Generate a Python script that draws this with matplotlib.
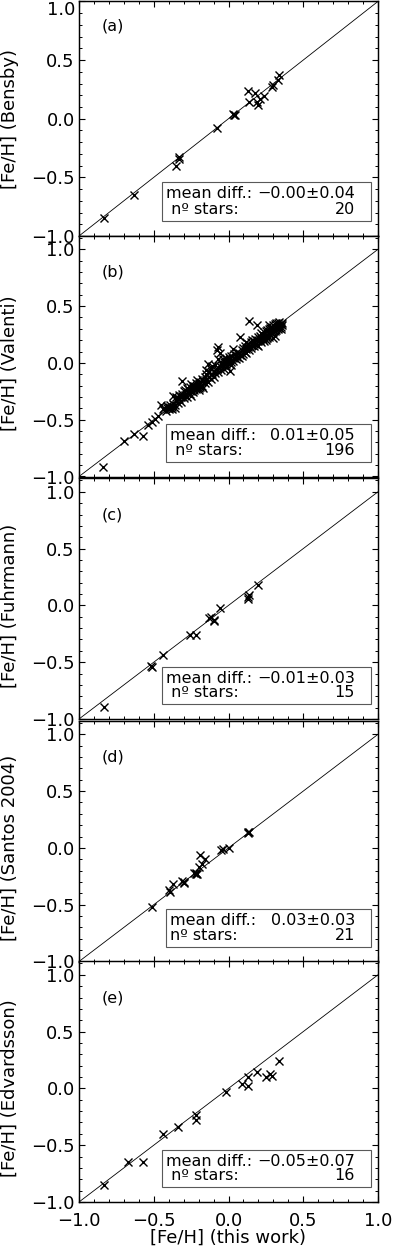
import matplotlib
matplotlib.use("Agg")
import matplotlib.pyplot as plt
from matplotlib.ticker import MultipleLocator, FuncFormatter

plt.rcParams['font.family'] = ['DejaVu Sans']

# ---------------- data ----------------
ylabels = ["[Fe/H] (Bensby)", "[Fe/H] (Valenti)", "[Fe/H] (Fuhrmann)",
           "[Fe/H] (Santos 2004)", "[Fe/H] (Edvardsson)"]
panel_tags = ["(a)", "(b)", "(c)", "(d)", "(e)"]
mean_diff = ["\u22120.00\u00b10.04", "0.01\u00b10.05", "\u22120.01\u00b10.03",
             "0.03\u00b10.03", "\u22120.05\u00b10.07"]
n_stars = [20, 196, 15, 21, 16]

xa = [-0.83, -0.63, -0.35, -0.33, -0.33, -0.08, 0.03, 0.035, 0.045, 0.13,
      0.14, 0.18, 0.19, 0.20, 0.21, 0.24, 0.29, 0.30, 0.33, 0.34]
ya = [-0.85, -0.65, -0.40, -0.33, -0.34, -0.08, 0.04, 0.035, 0.03, 0.24,
      0.14, 0.22, 0.14, 0.12, 0.17, 0.19, 0.27, 0.29, 0.33, 0.37]

xb = [-0.84, -0.70, -0.63, -0.57, -0.54, -0.51, -0.49, -0.47,
      -0.45, -0.44, -0.43, -0.42, -0.41, -0.41, -0.40, -0.40, -0.39, -0.39, -0.38, -0.37, -0.37, -0.36, -0.35,
      -0.35, -0.34, -0.34, -0.33, -0.33, -0.32, -0.32, -0.31, -0.31, -0.30, -0.30, -0.29, -0.29, -0.28, -0.28,
      -0.27, -0.27, -0.26, -0.26, -0.25, -0.25, -0.25,
      -0.24, -0.24, -0.23, -0.23, -0.22, -0.22, -0.21, -0.21, -0.20, -0.20, -0.19, -0.19, -0.18, -0.18,
      -0.17, -0.17, -0.16, -0.16, -0.15, -0.15, -0.15, -0.14, -0.14, -0.13,
      -0.13, -0.12, -0.12, -0.11, -0.11, -0.10, -0.10, -0.09, -0.09, -0.08, -0.08, -0.07, -0.07, -0.07,
      -0.06, -0.06, -0.05, -0.05, -0.04, -0.04, -0.03, -0.03, -0.02, -0.02,
      -0.01, -0.01, 0.00, 0.00, 0.01, 0.01, 0.02, 0.02, 0.03, 0.03, 0.04, 0.04, 0.05, 0.05, 0.06, 0.06,
      0.07, 0.07, 0.08, 0.08, 0.09, 0.09,
      0.10, 0.10, 0.11, 0.11, 0.12, 0.12, 0.13, 0.13, 0.14, 0.14, 0.14, 0.15, 0.15, 0.16, 0.16, 0.17,
      0.17, 0.18, 0.18, 0.19, 0.19, 0.19, 0.20, 0.20, 0.20, 0.21,
      0.21, 0.22, 0.22, 0.23, 0.23, 0.24, 0.24, 0.25, 0.25, 0.25, 0.26, 0.26, 0.26, 0.27, 0.27, 0.27,
      0.28, 0.28, 0.28, 0.29, 0.29, 0.29, 0.30, 0.30, 0.30, 0.30, 0.31, 0.31, 0.31, 0.32, 0.32, 0.32,
      0.33, 0.33, 0.33, 0.34, 0.34, 0.34, 0.35, 0.35, 0.35, 0.36, 0.36, 0.31, 0.27,
      -0.38, -0.36, -0.24, -0.20, -0.12, 0.02, 0.12, 0.22, 0.24, -0.31]
yb = [-0.92, -0.69, -0.63, -0.64, -0.55, -0.52, -0.49, -0.47,
      -0.37, -0.41, -0.40, -0.42, -0.40, -0.38, -0.41, -0.39, -0.40, -0.37, -0.39, -0.36, -0.29, -0.37, -0.33,
      -0.30, -0.35, -0.31, -0.32, -0.28, -0.34, -0.30, -0.16, -0.27, -0.31, -0.25, -0.28, -0.24, -0.30, -0.22,
      -0.26, -0.23, -0.27, -0.21, -0.25, -0.19, -0.29,
      -0.22, -0.26, -0.20, -0.24, -0.18, -0.23, -0.21, -0.15, -0.19, -0.24, -0.17, -0.21, -0.14, -0.20,
      -0.16, -0.22, -0.12, -0.18, -0.15, -0.10, -0.06, -0.17, -0.01, -0.12,
      -0.08, -0.14, -0.05, -0.10, -0.03, -0.12, -0.07, -0.02, -0.09, 0.11, -0.05, 0.14, -0.08, 0.03,
      -0.03, 0.09, -0.06, 0.00, -0.02, 0.03, -0.05, 0.01, -0.01, 0.04,
      -0.04, 0.02, 0.00, 0.05, -0.07, 0.03, 0.01, 0.06, 0.12, 0.02, 0.04, 0.08, 0.03, 0.07, 0.05, 0.10,
      0.04, 0.09, 0.23, 0.07, 0.11, 0.06,
      0.08, 0.13, 0.10, 0.15, 0.09, 0.12, 0.14, 0.17, 0.11, 0.37, 0.15, 0.18, 0.13, 0.16, 0.20, 0.15,
      0.19, 0.17, 0.21, 0.33, 0.16, 0.20, 0.19, 0.23, 0.15, 0.20,
      0.24, 0.18, 0.22, 0.25, 0.21, 0.23, 0.27, 0.20, 0.24, 0.28, 0.25, 0.22, 0.29, 0.26, 0.30, 0.23,
      0.27, 0.31, 0.25, 0.28, 0.32, 0.26, 0.29, 0.33, 0.22, 0.27, 0.30, 0.34, 0.28, 0.31, 0.35, 0.29,
      0.32, 0.30, 0.35, 0.33, 0.31, 0.36, 0.34, 0.32, 0.30, 0.33, 0.35, 0.24, 0.33,
      -0.41, -0.40, -0.20, -0.22, -0.10, -0.02, 0.18, 0.26, 0.19, -0.29]

xc = [-0.83, -0.52, -0.51, -0.44, -0.26, -0.22, -0.13, -0.12, -0.10, -0.10,
      -0.06, 0.13, 0.13, 0.14, 0.20]
yc = [-0.89, -0.53, -0.54, -0.44, -0.26, -0.26, -0.11, -0.10, -0.13, -0.14,
      -0.02, 0.06, 0.07, 0.09, 0.18]

xd = [-0.51, -0.40, -0.39, -0.37, -0.31, -0.30, -0.30, -0.23, -0.22, -0.22, -0.21,
      -0.20, -0.19, -0.18, -0.16, -0.05, -0.04, 0.00, 0.13, 0.13, 0.14]
yd = [-0.52, -0.37, -0.39, -0.32, -0.29, -0.31, -0.30, -0.22, -0.23, -0.22, -0.23,
      -0.17, -0.06, -0.14, -0.10, -0.02, -0.01, 0.00, 0.14, 0.13, 0.14]

xe = [-0.83, -0.67, -0.57, -0.44, -0.34, -0.22, -0.22, -0.02, 0.09, 0.13,
      0.13, 0.19, 0.25, 0.28, 0.29, 0.34]
ye = [-0.85, -0.65, -0.65, -0.40, -0.34, -0.23, -0.28, -0.03, 0.04, 0.10,
      0.02, 0.14, 0.10, 0.13, 0.11, 0.24]

xs = [xa, xb, xc, xd, xe]
ys = [ya, yb, yc, yd, ye]

# ---------------- layout ----------------
W, H = 393, 1257
fig = plt.figure(figsize=(W / 100, H / 100), dpi=100)

left_px, right_px = 79, 378
# (bottom pixel from top, pixel per data unit, y max)
geom = [(236, 117.3, 1.0), (476.5, 113.6, 1.12), (719, 113.6, 1.12),
        (961.5, 113.6, 1.12), (1202, 113.6, 1.12)]
YMIN = -1.0
box_left = [-0.445, -0.418, -0.445, -0.418, -0.445]
star_lbl = [" n\u00ba stars:", " n\u00ba stars:", " n\u00ba stars:", "n\u00ba stars:", " n\u00ba stars:"]


def make_fmt(skip_top):
    def fmt(v, pos):
        if skip_top and abs(v - 1.0) < 1e-9:
            return ""
        s = "%.1f" % v
        if s == "-0.0":
            s = "0.0"
        return s.replace("-", "\u2212")
    return fmt


TICK_FS = 13
TXT_FS = 11.5

for i in range(5):
    bot, ppu, ymax = geom[i]
    hpx = (ymax - YMIN) * ppu
    ax = fig.add_axes([left_px / W, (H - bot) / H, (right_px - left_px) / W, hpx / H])
    ax.set_xlim(-1.0, 1.0)
    ax.set_ylim(YMIN, ymax)
    ax.plot([-1.0, 1.0], [-1.0, 1.0], color="black", lw=0.6)
    ax.plot(xs[i], ys[i], linestyle="none", marker="x", ms=5.3, mew=1.0, color="black")

    ax.xaxis.set_major_locator(MultipleLocator(0.5))
    ax.xaxis.set_minor_locator(MultipleLocator(0.1))
    ax.yaxis.set_major_locator(MultipleLocator(0.5))
    ax.yaxis.set_minor_locator(MultipleLocator(0.1))
    ax.yaxis.set_major_formatter(FuncFormatter(make_fmt(i == 0)))
    ax.xaxis.set_major_formatter(FuncFormatter(make_fmt(False)))
    ax.tick_params(which="both", direction="in", top=True, right=True, color="black")
    ax.tick_params(which="major", length=4.2, width=0.8, labelsize=TICK_FS, pad=3)
    ax.tick_params(which="minor", length=2.2, width=0.7)
    ax.tick_params(axis="x", which="major", pad=7.5)
    for sp in ax.spines.values():
        sp.set_linewidth(1.05)
    if i < 4:
        ax.tick_params(labelbottom=False)
    else:
        ax.set_xlabel("[Fe/H] (this work)", fontsize=TICK_FS, labelpad=-1.5)

    if i == 0:
        # top label of the clipped first panel sits just below its tick
        ax.text(-4 / (right_px - left_px), 1.0, "1.0", transform=ax.get_yaxis_transform(),
                ha="right", va="top", fontsize=TICK_FS)

    # y label centred on data y = 0
    y0_px = bot - (0 - YMIN) * ppu
    fig.text(10 / W, (H - y0_px) / H, ylabels[i], rotation=90, ha="center",
             va="center", fontsize=TICK_FS)

    # panel tag
    tag_y = 0.80 if i > 0 else 0.79
    ax.text(-0.85, tag_y, panel_tags[i], fontsize=TXT_FS, ha="left", va="center")

    # stats box
    bl = box_left[i]
    ax.add_patch(plt.Rectangle((bl, -0.87), 0.953 - bl, 0.33, fill=False,
                               edgecolor="0.35", lw=0.8))
    ax.text(bl + 0.025, -0.64, "mean diff.:", fontsize=TXT_FS, ha="left", va="center")
    ax.text(0.846, -0.64, mean_diff[i], fontsize=TXT_FS, ha="right", va="center")
    ax.text(bl + 0.025, -0.77, star_lbl[i], fontsize=TXT_FS, ha="left", va="center")
    ax.text(0.846, -0.77, str(n_stars[i]), fontsize=TXT_FS, ha="right", va="center")

fig.savefig("out.png", dpi=100)
